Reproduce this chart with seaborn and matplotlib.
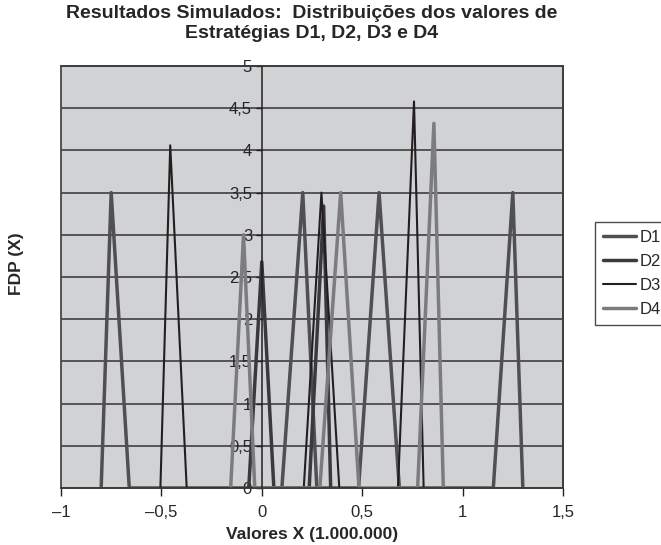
import numpy as np
import pandas as pd
import seaborn as sns
import matplotlib
matplotlib.use("Agg")
import matplotlib.pyplot as plt
from matplotlib.ticker import FuncFormatter

# ---- data ----
series_names = ["D1", "D2", "D3", "D4"]
d1_x = [-0.80, -0.75, -0.66, 0.10, 0.204, 0.274, 0.482, 0.584, 0.685, 1.153, 1.25, 1.30]
d1_y = [0, 3.5, 0, 0, 3.5, 0, 0, 3.5, 0, 0, 3.5, 0]
d2_x = [-0.065, 0.0, 0.06, 0.236, 0.308, 0.343]
d2_y = [0, 2.68, 0, 0, 3.34, 0]
d3_x = [-0.505, -0.456, -0.374, 0.209, 0.297, 0.386, 0.678, 0.758, 0.806]
d3_y = [0, 4.06, 0, 0, 3.5, 0, 0, 4.58, 0]
d4_x = [-0.155, -0.091, -0.035, 0.289, 0.393, 0.484, 0.776, 0.857, 0.904]
d4_y = [0, 3.0, 0, 0, 3.5, 0, 0, 4.32, 0]

x_ticks = [-1, -0.5, 0, 0.5, 1, 1.5]
y_ticks = [0, 0.5, 1, 1.5, 2, 2.5, 3, 3.5, 4, 4.5, 5]

title = "Resultados Simulados:  Distribuições dos valores de\nEstratégias D1, D2, D3 e D4"
xlabel = "Valores X (1.000.000)"
ylabel = "FDP (X)"

frames = []
for name, xs, ys in zip(series_names, [d1_x, d2_x, d3_x, d4_x], [d1_y, d2_y, d3_y, d4_y]):
    frames.append(pd.DataFrame({"x": xs, "y": ys, "serie": name, "order": range(len(xs))}))
df = pd.concat(frames, ignore_index=True)

colors = {"D1": "#505052", "D2": "#3a3a3c", "D3": "#231f20", "D4": "#7c7c7e"}
widths = {"D1": 2.5, "D2": 2.5, "D3": 1.5, "D4": 2.5}

# ---- style ----
sns.set_style("white")
plt.rcParams["font.family"] = ["Liberation Sans", "DejaVu Sans"]

fig = plt.figure(figsize=(6.61, 5.45), dpi=100)
ax = fig.add_axes([61 / 661, 1 - 488 / 545, (563 - 61) / 661, (488 - 66) / 545])
ax.set_facecolor("#d1d2d4")

for name in series_names:
    sub = df[df["serie"] == name]
    sns.lineplot(data=sub, x="x", y="y", ax=ax, sort=False, estimator=None,
                 color=colors[name], linewidth=widths[name], label=name)

ax.set_xlim(-1, 1.5)
ax.set_ylim(0, 5)
ax.set_xticks(x_ticks)
ax.set_yticks(y_ticks)

def fmt(v, pos):
    s = ("%g" % v).replace(".", ",")
    return s.replace("-", "\u2013")

ax.xaxis.set_major_formatter(FuncFormatter(fmt))
ax.yaxis.set_major_formatter(FuncFormatter(fmt))

ax.grid(axis="y", color="#4a4a4c", linewidth=1.3)
ax.grid(axis="x", visible=False)
ax.set_axisbelow("line")

for s in ["top", "right", "bottom"]:
    ax.spines[s].set_color("#3a3a3a")
    ax.spines[s].set_linewidth(1.2)
ax.spines["left"].set_position(("data", 0))
ax.spines["left"].set_color("#231f20")
ax.spines["left"].set_linewidth(1.1)
ax.patch.set_edgecolor("#3a3a3a")
ax.patch.set_linewidth(1.2)

ax.tick_params(axis="y", direction="out", length=4, width=1, pad=3, labelsize=12,
               left=True, color="#231f20")
ax.tick_params(axis="x", direction="out", length=6, width=1, pad=6, labelsize=12,
               bottom=True, color="#231f20")

ax.set_xlabel(xlabel, fontsize=12.5, fontweight="bold")
ax.xaxis.set_label_coords(0.5, (488 - 535) / 422)
ax.xaxis.label.set_va("center")
ax.set_ylabel(ylabel, fontsize=12.5, fontweight="bold")
ax.yaxis.set_label_coords((16 - 61) / 502, (488 - 264) / 422)
ax.yaxis.label.set_va("center")

ax.set_title(title, fontsize=14, fontweight="bold", x=0.5, y=(488 - 32) / 422,
             va="center", linespacing=1.25)

leg = ax.legend(loc="upper left", bbox_to_anchor=(595 / 661, 1 - 222 / 545),
                bbox_transform=fig.transFigure, borderaxespad=0, frameon=True,
                fancybox=False, edgecolor="#231f20", fontsize=12,
                handlelength=2.0, handletextpad=0.25, labelspacing=0.55,
                borderpad=0.45)
leg.get_frame().set_linewidth(1.0)

fig.savefig("out.png", dpi=100)
